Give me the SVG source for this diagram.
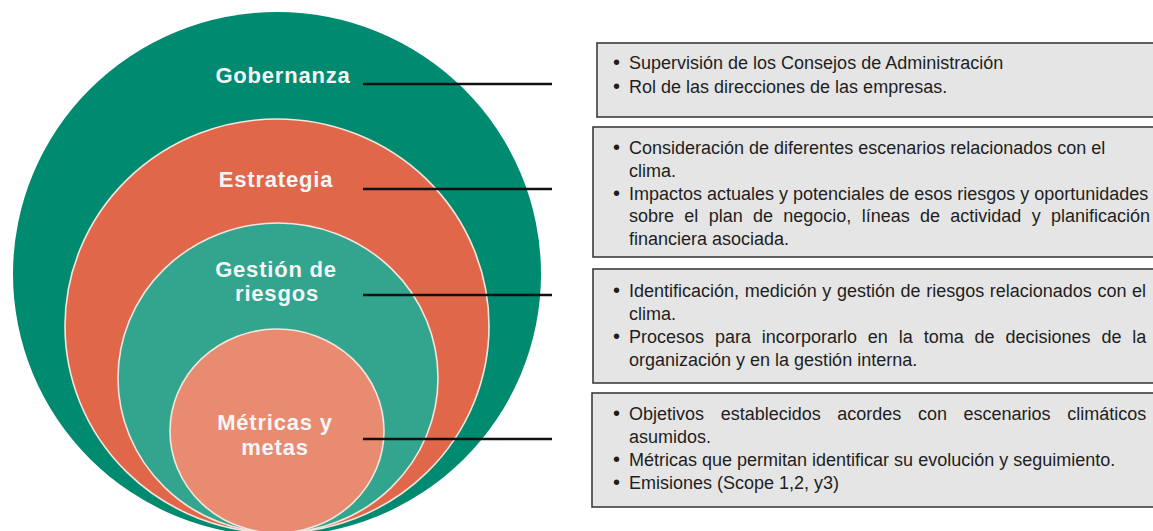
<svg xmlns="http://www.w3.org/2000/svg" width="1153" height="531" viewBox="0 0 1153 531">
<style>
.ring{stroke:#F3E6DF;stroke-width:1.6}
.lbl{font-family:"Liberation Sans",Arial,sans-serif;font-weight:bold;font-size:22px;letter-spacing:0.8px;fill:#F6F6F6;text-anchor:middle}
.box{fill:#E5E5E5;stroke:#3C3C3C;stroke-width:1.6}
.txt{font-family:"Liberation Sans",Arial,sans-serif;font-size:18px;fill:#1E1E1E}
.bul{font-family:"Liberation Sans",Arial,sans-serif;font-size:20px;fill:#1E1E1E}
.conn{stroke:#111111;stroke-width:2.4;fill:none}
</style>
<rect width="1153" height="531" fill="#FFFFFF"/>
<g id="gobernanza">
<ellipse cx="277" cy="274" rx="264" ry="262" fill="#008A70"/>
<text class="lbl" x="283" y="83">Gobernanza</text>
</g>
<g id="estrategia">
<ellipse class="ring" cx="277" cy="326" rx="212" ry="207" fill="#E0674A"/>
<text class="lbl" x="276" y="187">Estrategia</text>
</g>
<g id="gestion-riesgos">
<ellipse class="ring" cx="278" cy="378" rx="160" ry="155" fill="#33A48E"/>
<text class="lbl" x="276" y="277">Gestión de</text>
<text class="lbl" x="277" y="301">riesgos</text>
</g>
<g id="metricas-metas">
<ellipse class="ring" cx="277" cy="431" rx="107" ry="102" fill="#E88B71"/>
<text class="lbl" x="275" y="430">Métricas y</text>
<text class="lbl" x="275" y="455">metas</text>
</g>
<g id="connectors">
<line class="conn" x1="363" y1="84" x2="552" y2="84"/>
<line class="conn" x1="363" y1="189" x2="552" y2="189"/>
<line class="conn" x1="363" y1="295" x2="552" y2="295"/>
<line class="conn" x1="363" y1="439" x2="552" y2="439"/>
</g>
<g id="box-gobernanza">
<rect class="box" x="597" y="43" width="600" height="74"/>
<text class="bul" x="613" y="69">•</text>
<text class="txt" x="629" y="69">Supervisión de los Consejos de Administración</text>
<text class="bul" x="613" y="93">•</text>
<text class="txt" x="629" y="93">Rol de las direcciones de las empresas.</text>
</g>
<g id="box-estrategia">
<rect class="box" x="593" y="127" width="600" height="130"/>
<text class="bul" x="613" y="154">•</text>
<text class="txt" x="629" y="154">Consideración de diferentes escenarios relacionados con el</text>
<text class="txt" x="629" y="177">clima.</text>
<text class="bul" x="613" y="200">•</text>
<text class="txt" x="629" y="200">Impactos actuales y potenciales de esos riesgos y oportunidades</text>
<text class="txt" x="629" y="222" word-spacing="5.3">sobre el plan de negocio, líneas de actividad y planificación</text>
<text class="txt" x="629" y="245">financiera asociada.</text>
</g>
<g id="box-gestion">
<rect class="box" x="593" y="269" width="600" height="114"/>
<text class="bul" x="613" y="297">•</text>
<text class="txt" x="629" y="297" word-spacing="0.6">Identificación, medición y gestión de riesgos relacionados con el</text>
<text class="txt" x="629" y="320">clima.</text>
<text class="bul" x="613" y="343">•</text>
<text class="txt" x="629" y="343" word-spacing="5.9">Procesos para incorporarlo en la toma de decisiones de la</text>
<text class="txt" x="629" y="366">organización y en la gestión interna.</text>
</g>
<g id="box-metricas">
<rect class="box" x="592" y="393" width="600" height="114"/>
<text class="bul" x="613" y="420">•</text>
<text class="txt" x="629" y="420" word-spacing="11.6">Objetivos establecidos acordes con escenarios climáticos</text>
<text class="txt" x="629" y="443">asumidos.</text>
<text class="bul" x="613" y="466">•</text>
<text class="txt" x="629" y="466">Métricas que permitan identificar su evolución y seguimiento.</text>
<text class="bul" x="613" y="489">•</text>
<text class="txt" x="629" y="489">Emisiones (Scope 1,2, y3)</text>
</g>
</svg>
